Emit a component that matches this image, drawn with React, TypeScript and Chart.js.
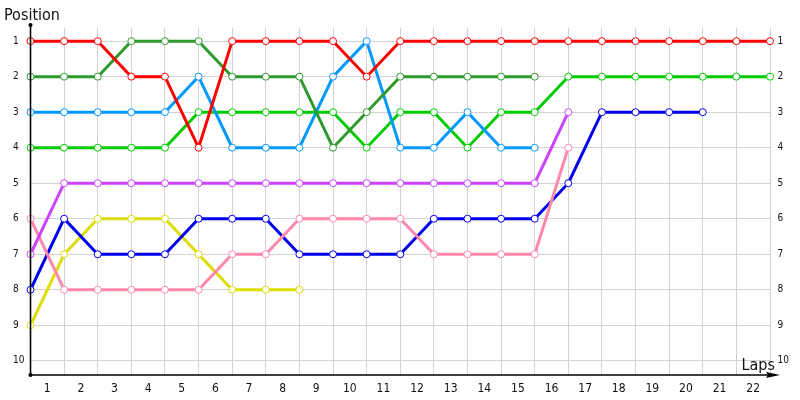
import React, { useEffect, useRef } from 'react';
import { Chart, registerables } from 'chart.js';

Chart.register(...registerables);

const laps = [0, 1, 2, 3, 4, 5, 6, 7, 8, 9, 10, 11, 12, 13, 14, 15, 16, 17, 18, 19, 20, 21, 22];
const lapLabels = ['1', '2', '3', '4', '5', '6', '7', '8', '9', '10', '11', '12', '13', '14', '15', '16', '17', '18', '19', '20', '21', '22'];
const positionTicks = [1, 2, 3, 4, 5, 6, 7, 8, 9, 10];

const redSeries = [1, 1, 1, 2, 2, 4, 1, 1, 1, 1, 2, 1, 1, 1, 1, 1, 1, 1, 1, 1, 1, 1, 1];
const darkGreenSeries = [2, 2, 2, 1, 1, 1, 2, 2, 2, 4, 3, 2, 2, 2, 2, 2];
const lightBlueSeries = [3, 3, 3, 3, 3, 2, 4, 4, 4, 2, 1, 4, 4, 3, 4, 4];
const greenSeries = [4, 4, 4, 4, 4, 3, 3, 3, 3, 3, 4, 3, 3, 4, 3, 3, 2, 2, 2, 2, 2, 2, 2];
const purpleSeries = [7, 5, 5, 5, 5, 5, 5, 5, 5, 5, 5, 5, 5, 5, 5, 5, 3];
const blueSeries = [8, 6, 7, 7, 7, 6, 6, 6, 7, 7, 7, 7, 6, 6, 6, 6, 5, 3, 3, 3, 3];
const pinkSeries = [6, 8, 8, 8, 8, 8, 7, 7, 6, 6, 6, 6, 7, 7, 7, 7, 4];
const yellowSeries = [9, 7, 6, 6, 6, 7, 8, 8, 8];

const seriesList = [
  { name: 'Red', data: redSeries, color: '#ff0000' },
  { name: 'Dark green', data: darkGreenSeries, color: '#2e9a2e' },
  { name: 'Light blue', data: lightBlueSeries, color: '#0099ff' },
  { name: 'Green', data: greenSeries, color: '#00cc00' },
  { name: 'Purple', data: purpleSeries, color: '#cc44ff' },
  { name: 'Pink', data: pinkSeries, color: '#ff88aa' },
  { name: 'Blue', data: blueSeries, color: '#0000ee' },
  { name: 'Yellow', data: yellowSeries, color: '#dddd00' },
];

const FONT = '"DejaVu Sans Condensed", "DejaVu Sans", sans-serif';

const axesPlugin = {
  id: 'customAxes',
  afterDraw(chart: any) {
    const { ctx, chartArea } = chart;
    const { left, bottom } = chartArea;
    ctx.save();
    ctx.strokeStyle = '#000';
    ctx.fillStyle = '#000';
    ctx.lineWidth = 1.6;
    // y axis
    ctx.beginPath();
    ctx.moveTo(left, bottom);
    ctx.lineTo(left, 25);
    ctx.stroke();
    ctx.beginPath();
    ctx.arc(left, 25, 2, 0, Math.PI * 2);
    ctx.fill();
    ctx.beginPath();
    ctx.arc(left, bottom, 2, 0, Math.PI * 2);
    ctx.fill();
    // x axis
    ctx.beginPath();
    ctx.moveTo(left, bottom);
    ctx.lineTo(772, bottom);
    ctx.stroke();
    ctx.beginPath();
    ctx.moveTo(780, bottom);
    ctx.lineTo(766, bottom - 3);
    ctx.lineTo(768, bottom);
    ctx.lineTo(766, bottom + 3);
    ctx.closePath();
    ctx.fill();
    // titles
    ctx.font = '16px ' + FONT;
    ctx.textBaseline = 'alphabetic';
    ctx.textAlign = 'left';
    ctx.fillStyle = '#111';
    ctx.fillText('Position', 4, 20);
    ctx.textAlign = 'right';
    ctx.fillText('Laps', 775, 370);
    ctx.restore();
  },
};

export default function App() {
  const canvasRef = useRef<HTMLCanvasElement | null>(null);

  useEffect(() => {
    document.body.style.margin = '0';
    const canvas = canvasRef.current;
    if (!canvas) return;

    const datasets = seriesList.map((s) => ({
      label: s.name,
      data: s.data.map((v, i) => ({ x: laps[i], y: v })),
      borderColor: s.color,
      backgroundColor: s.color,
      borderWidth: 3,
      pointRadius: 3.5,
      pointBorderWidth: 1,
      pointBackgroundColor: '#ffffff',
      pointBorderColor: s.color,
      tension: 0,
      fill: false,
      clip: false as any,
    }));

    const yTickBuilder = (scale: any) => {
      scale.ticks = positionTicks.map((v) => ({ value: v }));
    };

    const chart = new Chart(canvas, {
      type: 'line',
      data: { datasets },
      options: {
        animation: false,
        responsive: false,
        layout: { padding: { top: 28, left: 13, right: 0, bottom: 0 } },
        plugins: {
          legend: { display: false },
          tooltip: { enabled: false },
        },
        scales: {
          x: {
            type: 'linear',
            min: 0,
            max: 22,
            afterBuildTicks: (scale: any) => {
              const t: { value: number }[] = [];
              laps.forEach((l) => {
                t.push({ value: l });
                if (l < laps[laps.length - 1]) t.push({ value: l + 0.5 });
              });
              scale.ticks = t;
            },
            afterFit: (scale: any) => {
              scale.height = 25;
            },
            grid: {
              color: (c: any) =>
                c.tick && c.tick.value % 1 === 0 ? '#d2d2d2' : 'rgba(0,0,0,0)',
              lineWidth: 1,
              drawTicks: false,
            },
            border: { display: false },
            ticks: {
              autoSkip: false,
              maxRotation: 0,
              minRotation: 0,
              padding: 7,
              color: '#111',
              font: { family: FONT, size: 12 },
              callback: (value: any) => {
                const v = Number(value);
                return v % 1 !== 0 ? lapLabels[Math.floor(v)] : '';
              },
            },
          },
          y: {
            type: 'linear',
            position: 'left',
            reverse: true,
            min: 0.63,
            max: 10.4,
            afterBuildTicks: yTickBuilder,
            afterFit: (scale: any) => {
              scale.width = 17.5;
            },
            grid: { color: '#d2d2d2', lineWidth: 1, drawTicks: false },
            border: { display: false },
            ticks: {
              crossAlign: 'far',
              padding: 0,
              color: '#111',
              font: { family: FONT, size: 10 },
              callback: (value: any) => String(value),
            },
          },
          y2: {
            type: 'linear',
            position: 'right',
            reverse: true,
            min: 0.63,
            max: 10.4,
            afterBuildTicks: yTickBuilder,
            afterFit: (scale: any) => {
              scale.width = 30;
            },
            grid: { display: false, drawTicks: false },
            border: { display: false },
            ticks: {
              padding: 7.5,
              color: '#111',
              font: { family: FONT, size: 10 },
              callback: (value: any) => String(value),
            },
          },
        },
      },
      plugins: [axesPlugin],
    });

    return () => {
      chart.destroy();
    };
  }, []);

  return (
    <div style={{ position: 'absolute', left: 0, top: 0, width: 800, height: 400, background: '#fff' }}>
      <canvas ref={canvasRef} width={800} height={400} style={{ display: 'block' }} />
    </div>
  );
}
